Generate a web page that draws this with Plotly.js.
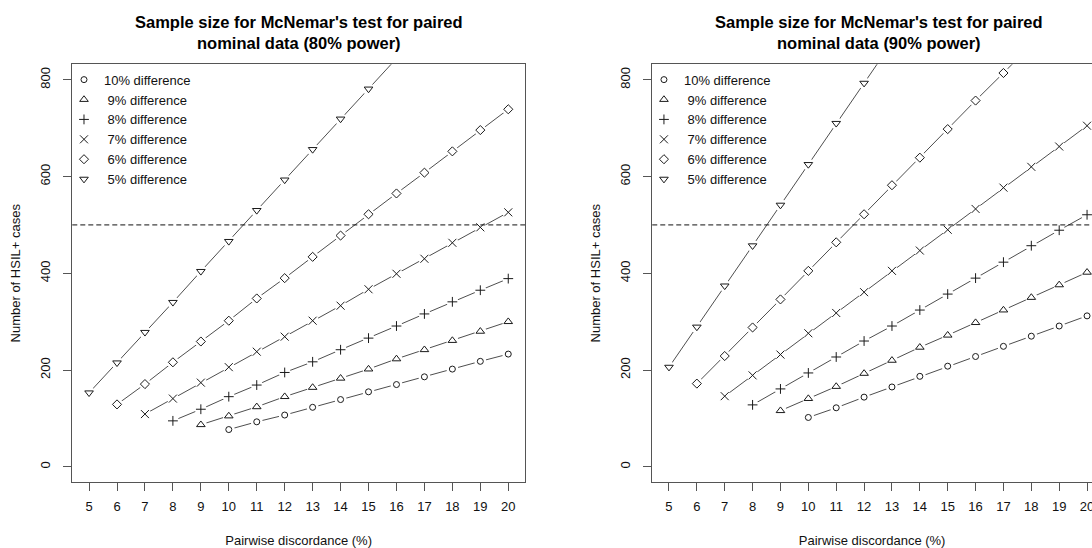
<!DOCTYPE html>
<html>
<head>
<meta charset="utf-8">
<script src="https://cdn.plot.ly/plotly-3.0.1.min.js"></script>
<style>html,body{margin:0;padding:0;background:#fff;}</style>
</head>
<body>
<div id="chart" style="width:1092px;height:548px;"></div>
<script>
// x categories: pairwise discordance (%)
const discordance = [5,6,7,8,9,10,11,12,13,14,15,16,17,18,19,20];

const seriesLabels = ['10% difference','\u00a09% difference','\u00a08% difference','\u00a07% difference','\u00a06% difference','\u00a05% difference'];

// 80% power panel (values per discordance 5..20)
const p80_diff10 = [null,null,null,null,null,77,93,107,123,139,155,170,186,202,218,233];
const p80_diff9  = [null,null,null,null,87,105,124,145,164,183,202,223,242,261,280,300];
const p80_diff8  = [null,null,null,95,119,145,169,195,217,242,266,291,316,341,365,389];
const p80_diff7  = [null,null,109,141,174,206,238,269,302,333,367,399,430,463,495,526];
const p80_diff6  = [null,129,171,216,259,302,348,390,434,478,522,565,608,652,696,739];
const p80_diff5  = [153,215,278,340,404,466,530,593,656,719,781,844,null,null,null,null];

// 90% power panel
const p90_diff10 = [null,null,null,null,null,102,122,144,165,187,208,228,249,270,291,312];
const p90_diff9  = [null,null,null,null,116,141,166,193,220,247,272,298,324,350,376,402];
const p90_diff8  = [null,null,null,128,161,194,227,260,291,324,357,390,423,457,489,521];
const p90_diff7  = [null,null,146,189,232,276,318,361,405,447,490,533,577,620,662,705];
const p90_diff6  = [null,172,229,288,346,405,464,522,582,639,698,757,814,872,null,null];
const p90_diff5  = [206,289,374,457,541,625,710,793,877,null,null,null,null,null,null,null];

const yTickVals = [0,200,400,600,800];
const thresholdN = 500;

const symbols = ['circle-open','triangle-up-open','cross-thin-open','x-thin-open','diamond-open','triangle-down-open'];
const symSizes = [6,7.5,7,8,7,7.5];

const panels = [
  {xa:'x', ya:'y', legend:'legend', data:[p80_diff10,p80_diff9,p80_diff8,p80_diff7,p80_diff6,p80_diff5]},
  {xa:'x2', ya:'y2', legend:'legend2', data:[p90_diff10,p90_diff9,p90_diff8,p90_diff7,p90_diff6,p90_diff5]}
];

const traces = [];
panels.forEach(p => {
  // connecting lines
  p.data.forEach(vals => {
    traces.push({x:discordance, y:vals, xaxis:p.xa, yaxis:p.ya, mode:'lines',
      line:{color:'#3a3a3a', width:0.9}, showlegend:false, hoverinfo:'skip'});
  });
  // white gaps around points (type="b" look)
  p.data.forEach(vals => {
    traces.push({x:discordance, y:vals, xaxis:p.xa, yaxis:p.ya, mode:'markers',
      marker:{symbol:'circle', size:12, color:'#ffffff', line:{width:0}}, showlegend:false, hoverinfo:'skip'});
  });
  // point symbols
  p.data.forEach((vals,i) => {
    traces.push({x:discordance, y:vals, xaxis:p.xa, yaxis:p.ya, mode:'markers', name:seriesLabels[i],
      legend:p.legend,
      marker:{symbol:symbols[i], size:symSizes[i], color:'#1a1a1a', line:{color:'#1a1a1a', width:1}}});
  });
});

const fontFam = '"Liberation Sans", Arial, Helvetica, sans-serif';
const yDom = [0.1199, 0.8827];

function xAxis(dom, rng, anchor, mirror) {
  return {domain:dom, range:rng, anchor:anchor, tickmode:'array', tickvals:discordance,
    ticks:'outside', ticklen:8, tickcolor:'#555', tickwidth:1, ticklabelstandoff:4,
    ticklabeloverflow:'allow',
    showline:true, mirror:mirror, linecolor:'#555', linewidth:1,
    showgrid:false, zeroline:false, tickfont:{size:13, color:'#111'},
    title:{text:'Pairwise discordance (%)', font:{size:13, color:'#111'}, standoff:23}};
}
function yAxis(anchor, mirror) {
  return {domain:yDom, range:[-32,832], anchor:anchor, tickmode:'array', tickvals:yTickVals,
    tickangle:-90, ticks:'outside', ticklen:8, tickcolor:'#555', tickwidth:1, ticklabelstandoff:8,
    showline:true, mirror:mirror, linecolor:'#555', linewidth:1,
    showgrid:false, zeroline:false, tickfont:{size:13, color:'#111'},
    title:{text:'Number of HSIL+ cases', font:{size:13, color:'#111'}, standoff:14}};
}

const layout = {
  width:1092, height:548,
  margin:{l:0, r:0, t:0, b:0},
  paper_bgcolor:'#fff', plot_bgcolor:'#fff',
  font:{family:fontFam, size:13, color:'#111'},
  xaxis: xAxis([0.0662,0.4808],[4.4,20.6],'y',true),
  yaxis: yAxis('x',true),
  xaxis2: xAxis([0.5973,1],[4.4,20.177],'y2',true),
  yaxis2: yAxis('x2',false),
  legend:{x:0.0586, y:0.882, xanchor:'left', yanchor:'top', bgcolor:'rgba(0,0,0,0)', borderwidth:0,
    font:{size:13, color:'#111'}, itemwidth:30, tracegroupgap:0},
  legend2:{x:0.5897, y:0.882, xanchor:'left', yanchor:'top', bgcolor:'rgba(0,0,0,0)', borderwidth:0,
    font:{size:13, color:'#111'}, itemwidth:30, tracegroupgap:0},
  shapes:[
    {type:'line', xref:'x domain', yref:'y', x0:0, x1:1, y0:thresholdN, y1:thresholdN, layer:'above',
      line:{color:'#111', width:1, dash:'5px,3px'}},
    {type:'line', xref:'x2 domain', yref:'y2', x0:0, x1:1, y0:thresholdN, y1:thresholdN, layer:'above',
      line:{color:'#111', width:1, dash:'5px,3px'}}
  ],
  annotations:[
    {xref:'paper', yref:'paper', x:0.2735, y:0.9416, xanchor:'center', yanchor:'middle', showarrow:false,
      text:"<b>Sample size for McNemar's test for paired<br>nominal data (80% power)</b>",
      font:{size:16.5, color:'#000'}},
    {xref:'paper', yref:'paper', x:0.8046, y:0.9416, xanchor:'center', yanchor:'middle', showarrow:false,
      text:"<b>Sample size for McNemar's test for paired<br>nominal data (90% power)</b>",
      font:{size:16.5, color:'#000'}}
  ]
};

Plotly.newPlot('chart', traces, layout, {displayModeBar:false, staticPlot:true});
</script>
</body>
</html>
